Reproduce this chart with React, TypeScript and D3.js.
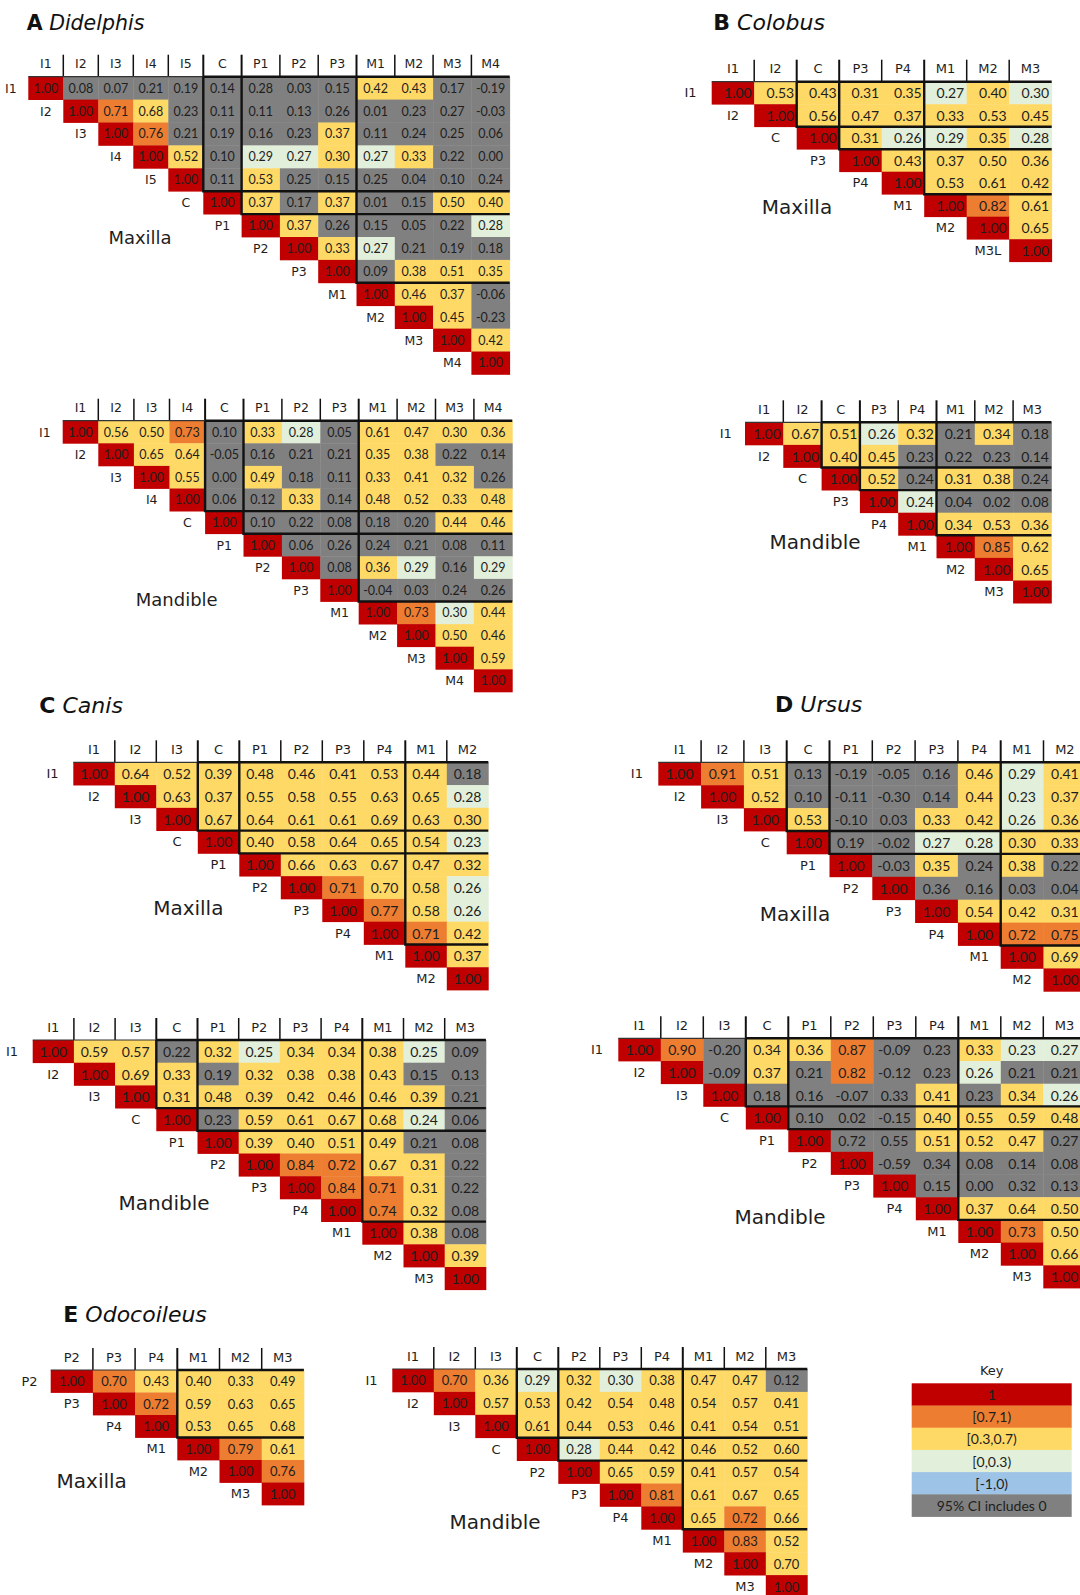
import React from "react";
import * as d3 from "d3";

// ---- Colour key ----
const keyLabels = ["1", "[0.7,1)", "[0.3,0.7)", "[0,0.3)", "[-1,0)", "95% CI includes 0"];
const keyColors = ["#C00000", "#ED7D31", "#FFD966", "#E2EFDA", "#9DC3E6", "#808080"];
const CI0_COLOR = "#808080";

// correlation -> fill (thresholds 0, 0.3, 0.7, 1)
const corrColor = d3
  .scaleThreshold<number, string>()
  .domain([0, 0.3, 0.7, 1])
  .range(["#9DC3E6", "#E2EFDA", "#FFD966", "#ED7D31", "#C00000"]);

// ---- A Didelphis ----
const didelphisMaxLabels = ["I1", "I2", "I3", "I4", "I5", "C", "P1", "P2", "P3", "M1", "M2", "M3", "M4"];
const didelphisMaxValues = [
  [1.0, 0.08, 0.07, 0.21, 0.19, 0.14, 0.28, 0.03, 0.15, 0.42, 0.43, 0.17, -0.19],
  [1.0, 0.71, 0.68, 0.23, 0.11, 0.11, 0.13, 0.26, 0.01, 0.23, 0.27, -0.03],
  [1.0, 0.76, 0.21, 0.19, 0.16, 0.23, 0.37, 0.11, 0.24, 0.25, 0.06],
  [1.0, 0.52, 0.1, 0.29, 0.27, 0.3, 0.27, 0.33, 0.22, 0.0],
  [1.0, 0.11, 0.53, 0.25, 0.15, 0.25, 0.04, 0.1, 0.24],
  [1.0, 0.37, 0.17, 0.37, 0.01, 0.15, 0.5, 0.4],
  [1.0, 0.37, 0.26, 0.15, 0.05, 0.22, 0.28],
  [1.0, 0.33, 0.27, 0.21, 0.19, 0.18],
  [1.0, 0.09, 0.38, 0.51, 0.35],
  [1.0, 0.46, 0.37, -0.06],
  [1.0, 0.45, -0.23],
  [1.0, 0.42],
  [1.0],
];
const didelphisMaxCI0 = [".xxxxxxxx..xx", "...xxxxxxxxx", "..xxxx.xxxx", "..x.....xx", ".x.xxxxxx", "..x.xx..", "..xxxx.", "...xxx", ".x...", "...x", "..x", "..", "."];

const didelphisManLabels = ["I1", "I2", "I3", "I4", "C", "P1", "P2", "P3", "M1", "M2", "M3", "M4"];
const didelphisManValues = [
  [1.0, 0.56, 0.5, 0.73, 0.1, 0.33, 0.28, 0.05, 0.61, 0.47, 0.3, 0.36],
  [1.0, 0.65, 0.64, -0.05, 0.16, 0.21, 0.21, 0.35, 0.38, 0.22, 0.14],
  [1.0, 0.55, 0.0, 0.49, 0.18, 0.11, 0.33, 0.41, 0.32, 0.26],
  [1.0, 0.06, 0.12, 0.33, 0.14, 0.48, 0.52, 0.33, 0.48],
  [1.0, 0.1, 0.22, 0.08, 0.18, 0.2, 0.44, 0.46],
  [1.0, 0.06, 0.26, 0.24, 0.21, 0.08, 0.11],
  [1.0, 0.08, 0.36, 0.29, 0.16, 0.29],
  [1.0, -0.04, 0.03, 0.24, 0.26],
  [1.0, 0.73, 0.298, 0.44],
  [1.0, 0.5, 0.46],
  [1.0, 0.59],
  [1.0],
];
const didelphisManCI0 = ["....x..x....", "...xxxx..xx", "..x.xx...x", ".xx.x....", ".xxxxx..", ".xxxxxx", ".x..x.", ".xxxx", "....", "...", "..", "."];

// ---- B Colobus ----
const colobusMaxLabels = ["I1", "I2", "C", "P3", "P4", "M1", "M2", "M3"];
const colobusMaxRowLabels = ["I1", "I2", "C", "P3", "P4", "M1", "M2", "M3L"];
const colobusMaxValues = [
  [1.0, 0.53, 0.43, 0.31, 0.35, 0.27, 0.4, 0.298],
  [1.0, 0.56, 0.47, 0.37, 0.33, 0.53, 0.45],
  [1.0, 0.31, 0.26, 0.29, 0.35, 0.28],
  [1.0, 0.43, 0.37, 0.5, 0.36],
  [1.0, 0.53, 0.61, 0.42],
  [1.0, 0.82, 0.61],
  [1.0, 0.65],
  [1.0],
];
const colobusMaxCI0: string[] = [];

const colobusManLabels = ["I1", "I2", "C", "P3", "P4", "M1", "M2", "M3"];
const colobusManValues = [
  [1.0, 0.67, 0.51, 0.26, 0.32, 0.21, 0.34, 0.18],
  [1.0, 0.4, 0.45, 0.23, 0.22, 0.23, 0.14],
  [1.0, 0.52, 0.24, 0.31, 0.38, 0.24],
  [1.0, 0.24, 0.04, 0.02, 0.08],
  [1.0, 0.34, 0.53, 0.36],
  [1.0, 0.85, 0.62],
  [1.0, 0.65],
  [1.0],
];
const colobusManCI0 = [".....x.x", "...xxxx", "..x..x", "..xxx"];

// ---- C Canis ----
const canisMaxLabels = ["I1", "I2", "I3", "C", "P1", "P2", "P3", "P4", "M1", "M2"];
const canisMaxValues = [
  [1.0, 0.64, 0.52, 0.39, 0.48, 0.46, 0.41, 0.53, 0.44, 0.18],
  [1.0, 0.63, 0.37, 0.55, 0.58, 0.55, 0.63, 0.65, 0.28],
  [1.0, 0.67, 0.64, 0.61, 0.61, 0.69, 0.63, 0.3],
  [1.0, 0.4, 0.58, 0.64, 0.65, 0.54, 0.23],
  [1.0, 0.66, 0.63, 0.67, 0.47, 0.32],
  [1.0, 0.71, 0.698, 0.58, 0.26],
  [1.0, 0.77, 0.58, 0.26],
  [1.0, 0.71, 0.42],
  [1.0, 0.37],
  [1.0],
];
const canisMaxCI0 = [".........x"];

const canisManLabels = ["I1", "I2", "I3", "C", "P1", "P2", "P3", "P4", "M1", "M2", "M3"];
const canisManValues = [
  [1.0, 0.59, 0.57, 0.22, 0.32, 0.25, 0.34, 0.34, 0.38, 0.25, 0.09],
  [1.0, 0.69, 0.33, 0.19, 0.32, 0.38, 0.38, 0.43, 0.15, 0.13],
  [1.0, 0.31, 0.48, 0.39, 0.42, 0.46, 0.46, 0.39, 0.21],
  [1.0, 0.23, 0.59, 0.61, 0.67, 0.68, 0.24, 0.06],
  [1.0, 0.39, 0.4, 0.51, 0.49, 0.21, 0.08],
  [1.0, 0.84, 0.72, 0.67, 0.31, 0.22],
  [1.0, 0.84, 0.71, 0.31, 0.22],
  [1.0, 0.74, 0.32, 0.08],
  [1.0, 0.38, 0.08],
  [1.0, 0.39],
  [1.0],
];
const canisManCI0 = ["...x......x", "...x....xx", "........x", ".x.....x", ".....xx", ".....x", "....x", "...x", "..x"];

// ---- D Ursus ----
const ursusMaxLabels = ["I1", "I2", "I3", "C", "P1", "P2", "P3", "P4", "M1", "M2"];
const ursusMaxValues = [
  [1.0, 0.91, 0.51, 0.13, -0.19, -0.05, 0.16, 0.46, 0.29, 0.41],
  [1.0, 0.52, 0.1, -0.11, -0.3, 0.14, 0.44, 0.23, 0.37],
  [1.0, 0.53, -0.1, 0.03, 0.33, 0.42, 0.26, 0.36],
  [1.0, 0.19, -0.02, 0.27, 0.28, 0.3, 0.33],
  [1.0, -0.03, 0.35, 0.24, 0.38, 0.22],
  [1.0, 0.36, 0.16, 0.03, 0.04],
  [1.0, 0.54, 0.42, 0.31],
  [1.0, 0.72, 0.75],
  [1.0, 0.69],
  [1.0],
];
const ursusMaxCI0 = ["...xxxx...", "..xxxx...", "..xx....", ".xx....", ".x.x.x", ".xxxx"];

const ursusManLabels = ["I1", "I2", "I3", "C", "P1", "P2", "P3", "P4", "M1", "M2", "M3"];
const ursusManValues = [
  [1.0, 0.9, -0.2, 0.34, 0.36, 0.87, -0.09, 0.23, 0.33, 0.23, 0.27],
  [1.0, -0.09, 0.37, 0.21, 0.82, -0.12, 0.23, 0.26, 0.21, 0.21],
  [1.0, 0.18, 0.16, -0.07, 0.33, 0.41, 0.23, 0.34, 0.26],
  [1.0, 0.1, 0.02, -0.15, 0.4, 0.55, 0.59, 0.48],
  [1.0, 0.72, 0.55, 0.51, 0.52, 0.47, 0.27],
  [1.0, -0.59, 0.34, 0.08, 0.14, 0.08],
  [1.0, 0.15, 0.0, 0.32, 0.13],
  [1.0, 0.37, 0.64, 0.5],
  [1.0, 0.73, 0.5],
  [1.0, 0.66],
  [1.0],
];
const ursusManCI0 = ["..x...xx...", ".x.x.xx.xx", ".xxxx.x..", ".xxx....", ".xx...x", ".xxxxx", ".xxxx"];

// ---- E Odocoileus ----
const odocoileusMaxLabels = ["P2", "P3", "P4", "M1", "M2", "M3"];
const odocoileusMaxValues = [
  [1.0, 0.7, 0.43, 0.4, 0.33, 0.49],
  [1.0, 0.72, 0.59, 0.63, 0.65],
  [1.0, 0.53, 0.65, 0.68],
  [1.0, 0.79, 0.61],
  [1.0, 0.76],
  [1.0],
];
const odocoileusMaxCI0: string[] = [];

const odocoileusManLabels = ["I1", "I2", "I3", "C", "P2", "P3", "P4", "M1", "M2", "M3"];
const odocoileusManValues = [
  [1.0, 0.7, 0.36, 0.29, 0.32, 0.298, 0.38, 0.47, 0.47, 0.12],
  [1.0, 0.57, 0.53, 0.42, 0.54, 0.48, 0.54, 0.57, 0.41],
  [1.0, 0.61, 0.44, 0.53, 0.46, 0.41, 0.54, 0.51],
  [1.0, 0.28, 0.44, 0.42, 0.46, 0.52, 0.6],
  [1.0, 0.65, 0.59, 0.41, 0.57, 0.54],
  [1.0, 0.81, 0.61, 0.67, 0.65],
  [1.0, 0.65, 0.72, 0.66],
  [1.0, 0.83, 0.52],
  [1.0, 0.698],
  [1.0],
];
const odocoileusManCI0 = [".........x"];

const LABEL_FONT = "'DejaVu Sans', Verdana, sans-serif";
const VALUE_FONT = "Lato, 'Open Sans', sans-serif";
const INK = "#1e1e1e";

type MatrixSpec = {
  labels: string[];
  rowLabels?: string[];
  values: number[][];
  ci0: string[];
  x: number;
  y: number;
  cellW: number;
  incisorW?: number;
  cellH: number;
  valueSize: number;
  labelSize: number;
  align: "middle" | "end";
  caption: string;
  capX: number;
  capY: number;
  capSize: number;
};

function Matrix({ m }: { m: MatrixSpec }) {
  const n = m.labels.length;
  const widths = m.labels.map((l) => (l[0] === "I" && m.incisorW ? m.incisorW : m.cellW));
  const xs = Array.from(d3.cumsum([0, ...widths])).map((e) => m.x + e);
  const y = d3.scaleLinear().domain([0, n]).range([m.y, m.y + n * m.cellH]);
  const rowLabels = m.rowLabels ?? m.labels;
  const bounds = d3.range(1, n).filter((k) => m.labels[k][0] !== m.labels[k - 1][0]);
  const xEnd = xs[n];

  const cells: React.ReactNode[] = [];
  m.values.forEach((row, r) => {
    row.forEach((v, j) => {
      const c = r + j;
      const gray = m.ci0[r]?.[j] === "x";
      const fill = gray ? CI0_COLOR : corrColor(v);
      const tx = m.align === "end" ? xs[c + 1] - 2.5 : (xs[c] + xs[c + 1]) / 2;
      cells.push(
        <g key={`${r}-${c}`}>
          <rect x={xs[c]} y={y(r)} width={xs[c + 1] - xs[c] + 0.4} height={m.cellH + 0.4} fill={fill} />
          <text
            x={tx}
            y={y(r + 0.5)}
            textAnchor={m.align}
            dominantBaseline="central"
            fontFamily={VALUE_FONT}
            fontSize={m.valueSize}
            fill={INK}
          >
            {v.toFixed(2)}
          </text>
        </g>
      );
    });
  });

  return (
    <g>
      {cells}
      {/* column headers */}
      {m.labels.map((l, c) => (
        <text
          key={`h${c}`}
          x={(xs[c] + xs[c + 1]) / 2}
          y={m.y - 13}
          textAnchor="middle"
          dominantBaseline="central"
          fontFamily={LABEL_FONT}
          fontSize={m.labelSize}
          fill={INK}
        >
          {l}
        </text>
      ))}
      {d3.range(1, n).map((c) => (
        <line
          key={`s${c}`}
          x1={xs[c]}
          x2={xs[c]}
          y1={m.y - 22}
          y2={m.y}
          stroke="#111"
          strokeWidth={bounds.includes(c) ? 2 : 1.5}
        />
      ))}
      {/* row labels, left of the diagonal */}
      {rowLabels.map((l, r) => (
        <text
          key={`r${r}`}
          x={r === 0 ? xs[0] - widths[0] / 2 : (xs[r - 1] + xs[r]) / 2}
          y={y(r + 0.5)}
          textAnchor="middle"
          dominantBaseline="central"
          fontFamily={LABEL_FONT}
          fontSize={m.labelSize}
          fill={INK}
        >
          {l}
        </text>
      ))}
      {/* header rule and tooth-class block outlines */}
      <line x1={xs[0]} x2={xs[bounds[0]]} y1={y(0)} y2={y(0)} stroke="#333" strokeWidth={1.2} />
      <line x1={xs[bounds[0]]} x2={xEnd} y1={y(0)} y2={y(0)} stroke="#111" strokeWidth={2.4} />
      {bounds.map((k) => (
        <path
          key={`b${k}`}
          d={`M${xs[k]},${y(0)}V${y(k)}H${xEnd}`}
          fill="none"
          stroke="#111"
          strokeWidth={2.4}
        />
      ))}
      <text
        x={m.capX}
        y={m.capY}
        textAnchor="middle"
        dominantBaseline="central"
        fontFamily={LABEL_FONT}
        fontSize={m.capSize}
        fill={INK}
      >
        {m.caption}
      </text>
    </g>
  );
}

function Title({ x, y, letter, genus, size }: { x: number; y: number; letter: string; genus: string; size: number }) {
  return (
    <text x={x} y={y} fontFamily={LABEL_FONT} fontSize={size} fill="#111">
      <tspan fontWeight="bold">{letter}</tspan>
      <tspan dx={size * 0.32} fontStyle="italic">
        {genus}
      </tspan>
    </text>
  );
}

const matrices: MatrixSpec[] = [
  { labels: didelphisMaxLabels, values: didelphisMaxValues, ci0: didelphisMaxCI0, x: 28.3, y: 76.7, cellW: 38.3, incisorW: 35.0, cellH: 22.9, valueSize: 12.5, labelSize: 12.5, align: "middle", caption: "Maxilla", capX: 140, capY: 237.3, capSize: 18 },
  { labels: didelphisManLabels, values: didelphisManValues, ci0: didelphisManCI0, x: 62.7, y: 420.7, cellW: 38.4, incisorW: 35.6, cellH: 22.6, valueSize: 12.5, labelSize: 12.5, align: "middle", caption: "Mandible", capX: 176.7, capY: 599.3, capSize: 18 },
  { labels: colobusMaxLabels, rowLabels: colobusMaxRowLabels, values: colobusMaxValues, ci0: colobusMaxCI0, x: 711.7, y: 81.7, cellW: 42.5, cellH: 22.5, valueSize: 14, labelSize: 13, align: "end", caption: "Maxilla", capX: 797, capY: 206.7, capSize: 20 },
  { labels: colobusManLabels, values: colobusManValues, ci0: colobusManCI0, x: 745, y: 422.3, cellW: 38.3, cellH: 22.6, valueSize: 14, labelSize: 13, align: "end", caption: "Mandible", capX: 815, capY: 541.7, capSize: 20 },
  { labels: canisMaxLabels, values: canisMaxValues, ci0: canisMaxCI0, x: 73.3, y: 762.3, cellW: 41.5, cellH: 22.77, valueSize: 14, labelSize: 13, align: "middle", caption: "Maxilla", capX: 188.3, capY: 907.7, capSize: 20 },
  { labels: canisManLabels, values: canisManValues, ci0: canisManCI0, x: 32.7, y: 1040, cellW: 41.2, cellH: 22.7, valueSize: 14, labelSize: 13, align: "middle", caption: "Mandible", capX: 164, capY: 1203.3, capSize: 20 },
  { labels: ursusMaxLabels, values: ursusMaxValues, ci0: ursusMaxCI0, x: 658.3, y: 762.3, cellW: 42.8, cellH: 22.9, valueSize: 14, labelSize: 13, align: "middle", caption: "Maxilla", capX: 795, capY: 914.3, capSize: 20 },
  { labels: ursusManLabels, values: ursusManValues, ci0: ursusManCI0, x: 618.3, y: 1038.3, cellW: 42.5, cellH: 22.7, valueSize: 14, labelSize: 13, align: "middle", caption: "Mandible", capX: 780, capY: 1216.7, capSize: 20 },
  { labels: odocoileusMaxLabels, values: odocoileusMaxValues, ci0: odocoileusMaxCI0, x: 50.7, y: 1370, cellW: 42.2, cellH: 22.5, valueSize: 13, labelSize: 13, align: "middle", caption: "Maxilla", capX: 91.7, capY: 1480.7, capSize: 20 },
  { labels: odocoileusManLabels, values: odocoileusManValues, ci0: odocoileusManCI0, x: 392.3, y: 1369, cellW: 41.5, cellH: 22.9, valueSize: 13, labelSize: 13, align: "middle", caption: "Mandible", capX: 495, capY: 1521.7, capSize: 20 },
];

function Key({ x, y, w, h }: { x: number; y: number; w: number; h: number }) {
  const ky = d3.scaleBand<number>().domain(d3.range(keyLabels.length)).range([y, y + h * keyLabels.length]);
  return (
    <g>
      <text x={x + w / 2} y={y - 13} textAnchor="middle" dominantBaseline="central" fontFamily={LABEL_FONT} fontSize={13} fill={INK}>
        Key
      </text>
      {keyLabels.map((l, i) => (
        <g key={l}>
          <rect x={x} y={ky(i)!} width={w} height={ky.bandwidth() + 0.4} fill={keyColors[i]} />
          <text x={x + w / 2} y={ky(i)! + ky.bandwidth() / 2} textAnchor="middle" dominantBaseline="central" fontFamily={VALUE_FONT} fontSize={14} fill={INK}>
            {l}
          </text>
        </g>
      ))}
    </g>
  );
}

export default function App() {
  return (
    <svg
      width={1080}
      height={1595}
      viewBox="0 0 1080 1595"
      style={{ position: "absolute", left: 0, top: 0, display: "block", background: "#fff" }}
    >
      <rect width={1080} height={1595} fill="#fff" />
      <Title x={26.7} y={30} letter="A" genus="Didelphis" size={20.5} />
      <Title x={713.3} y={30} letter="B" genus="Colobus" size={22} />
      <Title x={39.3} y={713.3} letter="C" genus="Canis" size={22} />
      <Title x={775} y={711.7} letter="D" genus="Ursus" size={22} />
      <Title x={63.3} y={1321.7} letter="E" genus="Odocoileus" size={22} />
      {matrices.map((m, i) => (
        <Matrix key={i} m={m} />
      ))}
      <Key x={911.7} y={1383.3} w={160} h={22.2} />
    </svg>
  );
}
